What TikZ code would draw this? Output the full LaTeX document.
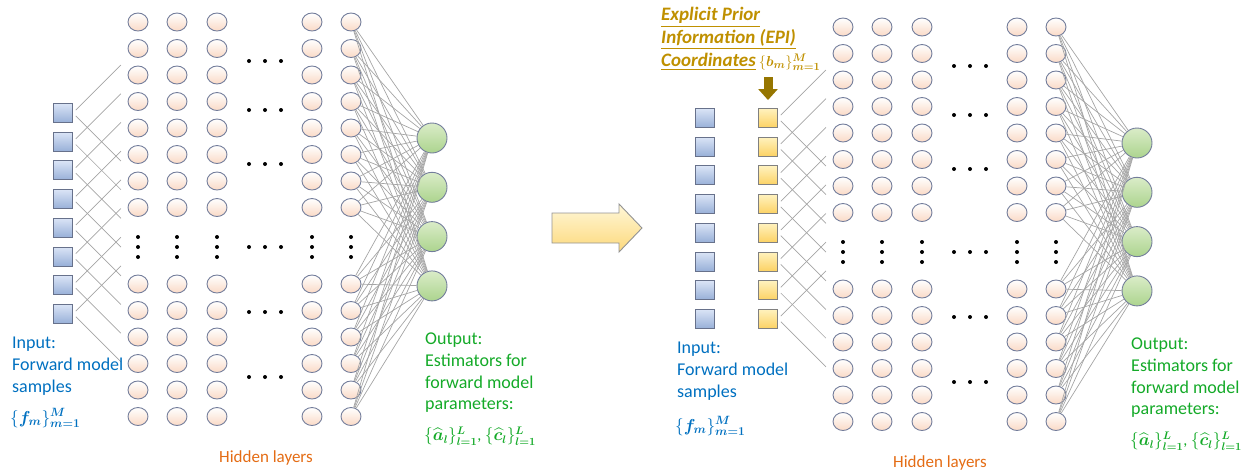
\documentclass[tikz,border=0pt]{standalone}
\usepackage{fontspec}
\setmainfont{Carlito}
\usepackage{amsmath}
\usepackage{bm}
\usetikzlibrary{positioning,calc,shapes.geometric,arrows.meta}

\definecolor{inblue}{RGB}{0,112,192}
\definecolor{outgreen}{RGB}{20,170,40}
\definecolor{hidorange}{RGB}{228,108,20}
\definecolor{epigold}{RGB}{191,144,0}
\definecolor{epidark}{RGB}{150,118,0}
\definecolor{linkgray}{RGB}{165,165,165}
\definecolor{rimgray}{RGB}{115,125,155}
\definecolor{peach}{RGB}{250,218,198}
\definecolor{sqtop}{RGB}{218,228,246}
\definecolor{sqbot}{RGB}{152,176,216}
\definecolor{yeltop}{RGB}{255,242,190}
\definecolor{yelbot}{RGB}{252,210,100}
\definecolor{grtop}{RGB}{218,236,200}
\definecolor{grbot}{RGB}{172,212,142}

\tikzset{
  hid/.style={ellipse, draw=rimgray, line width=0.9pt, minimum width=20pt, minimum height=18pt, inner sep=0pt, top color=white, bottom color=peach},
  outn/.style={circle, draw=rimgray, line width=0.9pt, minimum size=30pt, inner sep=0pt, top color=grtop, bottom color=grbot},
  insq/.style={rectangle, draw=rimgray!90!black, line width=0.9pt, minimum size=19pt, inner sep=0pt, top color=sqtop, bottom color=sqbot},
  episq/.style={rectangle, draw=gray, line width=0.9pt, minimum size=19pt, inner sep=0pt, top color=yeltop, bottom color=yelbot},
  dotn/.style={circle, fill=black, inner sep=0pt, minimum size=4pt},
  link/.style={draw=linkgray, line width=0.7pt},
  txt/.style={font=\fontsize{18}{21.7}\selectfont, align=left, inner sep=0pt, anchor=north west},
  mth/.style={font=\fontsize{18}{21.7}\selectfont, inner sep=0pt, anchor=west},
  layertxt/.style={font=\fontsize{17}{20}\selectfont, text=hidorange, inner sep=0pt},
}

\begin{document}
\begin{tikzpicture}[x=1pt,y=-1pt]
\useasboundingbox (0,0) rectangle (1252,472);

\foreach \n/\dx/\dy/\sq in {a/0/0/insq, b/705/5/episq} {
  \begin{scope}[shift={(\dx,\dy)}]
    \foreach \c/\x in {1/138,2/177,3/217,4/312,5/351} {
      \foreach \r in {1,...,8}
        \node[hid] (\n-h\c-\r) at (\x,{22+26.5*(\r-1)}) {};
      \foreach \r in {9,...,14}
        \node[hid] (\n-h\c-\r) at (\x,{284+26.5*(\r-9)}) {};
      \foreach \y in {237,247,257}
        \node[dotn] (\n-v\c-\y) at (\x,\y) {};
    }
    \foreach \y in {61,110,164,247,312,377}
      \foreach \x in {249,265,281}
        \node[dotn] (\n-d\x-\y) at (\x,\y) {};

    \foreach \k in {1,...,4}
      \node[outn] (\n-o\k) at (432,{138+49.3*(\k-1)}) {};

    \foreach \i in {1,...,8} {
      \node[\sq] (\n-s\i) at (63,{113+28.7*(\i-1)}) {};
      \coordinate (\n-u\i) at ($(\n-s\i.east)+(48,-48)$);
      \coordinate (\n-w\i) at ($(\n-s\i.east)+(48,48)$);
      \draw[link, shorten <=4pt] (\n-s\i.east) -- (\n-u\i);
      \draw[link, shorten <=4pt] (\n-s\i.east) -- (\n-w\i);
    }

    \foreach \r in {1,...,14}
      \foreach \k in {1,...,4}
        \draw[link] (\n-h5-\r) -- (\n-o\k);
  \end{scope}
}

\foreach \i in {1,...,8}
  \node[insq] (b-f\i) at (705,{118+28.7*(\i-1)}) {};

% big arrow between the two networks
\draw[draw=gray!85, line width=0.9pt, top color=yeltop!60!white, bottom color=yelbot!85!white]
  (552,213) -- (619,213) -- (619,204) -- (642,228) -- (619,252) -- (619,243) -- (552,243) -- cycle;

% texts
\node[txt, text=inblue] (inA) at (12,337) {Input:\\Forward model\\samples};
\node[mth, text=inblue] (inAm) at (10,418) {$\{\bm{f_m}\}_{\bm{m=1}}^{\bm{M}}$};
\node[txt, text=outgreen] (outA) at (425,333) {Output:\\Estimators for\\forward model\\parameters:};
\node[mth, text=outgreen, font=\fontsize{16}{20}\selectfont] (outAm) at (424,436) {$\{\bm{\widehat{a}_l}\}_{\bm{l=1}}^{\bm{L}}$, $\{\bm{\widehat{c}_l}\}_{\bm{l=1}}^{\bm{L}}$};
\node[layertxt] (hidA) at (266,458) {Hidden layers};

\node[txt, text=inblue] (inB) at (677,342) {Input:\\Forward model\\samples};
\node[mth, text=inblue] (inBm) at (675,426) {$\{\bm{f_m}\}_{\bm{m=1}}^{\bm{M}}$};
\node[txt, text=outgreen] (outB) at (1131,338) {Output:\\Estimators for\\forward model\\parameters:};
\node[mth, text=outgreen, font=\fontsize{16}{20}\selectfont] (outBm) at (1130,441) {$\{\bm{\widehat{a}_l}\}_{\bm{l=1}}^{\bm{L}}$, $\{\bm{\widehat{c}_l}\}_{\bm{l=1}}^{\bm{L}}$};
\node[layertxt] (hidB) at (940,463) {Hidden layers};

\node[txt, font=\fontsize{19}{23}\selectfont\bfseries\itshape, text=epigold] (epi) at (661,7)
  {\underline{Explicit Prior}\\\underline{Information (EPI)}\\\underline{Coordinates}\,{\fontsize{15}{23}\selectfont$\{\bm{b_m}\}_{\bm{m=1}}^{\bm{M}}$}};
\draw[line width=9pt, draw=epidark, -{Triangle[width=19pt,length=11pt]}, shorten >=8pt]
  ($(b-s1.north)+(0,-31)$) -- (b-s1.north);
\end{tikzpicture}
\end{document}
